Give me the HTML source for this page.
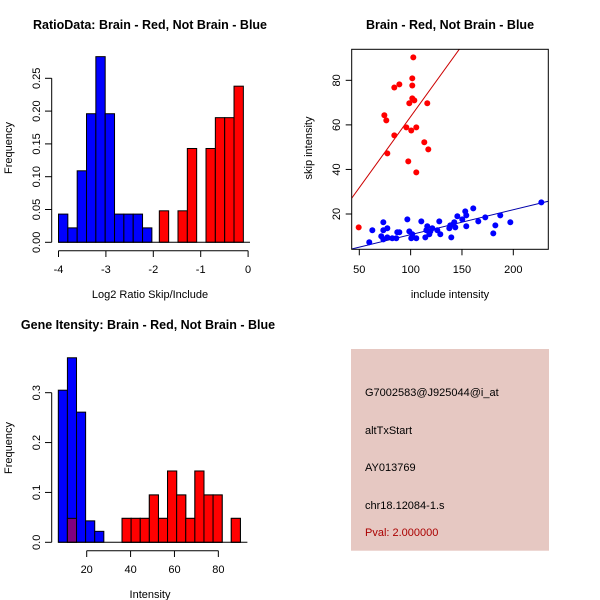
<!DOCTYPE html>
<html><head><meta charset="utf-8"><style>
body{margin:0;background:#fff}
svg{display:block;font-family:"Liberation Sans",sans-serif}
</style></head><body>
<svg id="c" width="600" height="600" xmlns="http://www.w3.org/2000/svg"></svg>
<script>
// Panel 1: ratio histogram
const ratioBlueStart = -4, ratioBinW = 0.197;
const ratioBlue = [0.043,0.022,0.109,0.196,0.283,0.196,0.043,0.043,0.043,0.022];
const ratioRedStart = -1.873;
const ratioRed = [0.048,0,0.048,0.143,0,0.143,0.19,0.19,0.238];
const ratioXTicks = [-4,-3,-2,-1,0];
const ratioYTicks = ["0.00","0.05","0.10","0.15","0.20","0.25"];
// Panel 2: scatter
const redX = [49.4,74.4,76.3,77.3,84.1,84.1,89,95.8,97.7,98.7,100.6,101.6,101.6,101.6,102.6,103.6,105.5,105.5,113.3,116.2,117.2];
const redY = [14,64.3,62,47.2,55.3,76.8,78.2,58.9,43.6,69.7,57.5,80.9,77.7,71.9,90.3,71,58.9,38.7,52.2,69.7,49];
const blueX = [59.7,62.7,71.4,73.4,73.4,73.4,77.3,77.3,82.1,86,87,89,96.8,98.7,100.6,101.6,105.5,110.4,114.3,115.3,116.2,118.2,119.2,121.1,126,127.9,128.9,137.7,138.6,139.6,141.6,142.5,143.5,145.5,150.3,153.2,154.2,154.2,161,165.9,172.7,180.5,182.5,187.3,197.1,227.3];
const blueY = [7.3,12.7,10,16.3,12.7,8.6,13.6,9.5,9.1,9.1,11.8,11.8,17.6,12.2,9.1,10.9,9.1,16.7,9.5,12.7,14.5,10.9,12.2,13.6,12.7,16.7,10.9,13.6,14.9,9.5,15.4,16.3,14,19,17.6,21.2,19.4,14.5,22.5,16.7,18.5,11.3,14.9,19.4,16.3,25.2];
const redFit = [-0.1,0.638];   // intercept, slope
const blueFit = [-0.45,0.1118];
const scXTicks = [50,100,150,200];
const scYTicks = [20,40,60,80];
// Panel 3: intensity histogram
const intBlueStart = 7.06, intBinW = 4.15;
const intBlue = [0.305,0.37,0.261,0.043,0.022];
const intRedStart = 11.2;
const intRed = [0.048,0,0,0,0,0,0.048,0.048,0.048,0.095,0.048,0.143,0.095,0.048,0.143,0.095,0.095,0,0.048];
const intXTicks = [20,40,60,80];
const intYTicks = ["0.0","0.1","0.2","0.3"];
// Panel 4
const infoLines = ["G7002583@J925044@i_at","altTxStart","AY013769","chr18.12084-1.s"];
const pvalText = "Pval: 2.000000";

const svg = document.getElementById('c');
const NS = 'http://www.w3.org/2000/svg';
function mk(tag, attrs, parent){const e=document.createElementNS(NS,tag);for(const k in attrs)e.setAttribute(k,attrs[k]);(parent||svg).appendChild(e);return e;}
function txt(s,x,y,attrs,parent){const e=mk('text',Object.assign({x:x,y:y},attrs),parent);e.textContent=s;return e;}

// ---------- Panel 1 ----------
(function(){
  const g = mk('g',{});
  
  
  const X = v => 58.5 + (v+4)*47.4;
  const Y = v => 242.3 - v*656;
  ratioBlue.forEach((h,i)=>{ if(h<=0) return;
    const x0=X(ratioBlueStart+i*ratioBinW), x1=X(ratioBlueStart+(i+1)*ratioBinW);
    const r=mk('rect',{x:x0,y:Y(h),width:x1-x0,height:Y(0)-Y(h),fill:'#0000ff',stroke:'#000','stroke-width':1},g);
     });
  ratioRed.forEach((h,i)=>{ if(h<=0) return;
    const x0=X(ratioRedStart+i*ratioBinW), x1=X(ratioRedStart+(i+1)*ratioBinW);
    const r=mk('rect',{x:x0,y:Y(h),width:x1-x0,height:Y(0)-Y(h),fill:'#ff0000',stroke:'#000','stroke-width':1},g);
     });
  mk('line',{x1:X(-4),x2:X(0.04),y1:Y(0),y2:Y(0),stroke:'#000'},g);
  const ax=mk('g',{},g);  
  mk('line',{x1:X(-4),x2:X(0),y1:250.7,y2:250.7,stroke:'#000'},ax);
  ratioXTicks.forEach(t=>{mk('line',{x1:X(t),x2:X(t),y1:250.7,y2:257,stroke:'#000'},ax);
    txt(String(t),X(t),273,{'font-size':11,'text-anchor':'middle'},ax);});
  const ay=mk('g',{},g);  
  mk('line',{x1:51.7,x2:51.7,y1:Y(0),y2:Y(0.25),stroke:'#000'},ay);
  ratioYTicks.forEach(t=>{const y=Y(+t);mk('line',{x1:45,x2:51.7,y1:y,y2:y,stroke:'#000'},ay);
    txt(t,40,y,{'font-size':11,'text-anchor':'middle',transform:`rotate(-90 40 ${y})`},ay);});
  const t1=txt('RatioData: Brain - Red, Not Brain - Blue',150,29,{'font-size':12.5,'font-weight':'bold','text-anchor':'middle'},g);
   
  const xl=txt('Log2 Ratio Skip/Include',150,298,{'font-size':11,'text-anchor':'middle'},g);
   
  const yl=txt('Frequency',12,148,{'font-size':11,'text-anchor':'middle',transform:'rotate(-90 12 148)'},g);
   
})();

// ---------- Panel 2 ----------
(function(){
  const g = mk('g',{});
  
  
  const X = v => 359.3 + (v-50)*1.0267;
  const Y = v => 214 - (v-20)*2.228;
  const L=351.7,R=548.3,T=49.3,B=249.3;
  const cp=mk('clipPath',{id:'sc'},g); mk('rect',{x:L,y:T,width:R-L,height:B-T},cp);
  const lines=mk('g',{'clip-path':'url(#sc)'},g);
  const xa=(L-359.3)/1.0267+50, xb=(R-359.3)/1.0267+50;
  const rl=mk('line',{x1:X(xa),y1:Y(redFit[0]+redFit[1]*xa),x2:X(xb),y2:Y(redFit[0]+redFit[1]*xb),stroke:'#cc0000','stroke-width':1},lines);
   
  const bl=mk('line',{x1:X(xa),y1:Y(blueFit[0]+blueFit[1]*xa),x2:X(xb),y2:Y(blueFit[0]+blueFit[1]*xb),stroke:'#0000aa','stroke-width':1},lines);
   
  redX.forEach((x,i)=>{const c=mk('circle',{cx:X(x),cy:Y(redY[i]),r:3,fill:'#ff0000'},g);
     });
  blueX.forEach((x,i)=>{const c=mk('circle',{cx:X(x),cy:Y(blueY[i]),r:3,fill:'#0000ff'},g);
     });
  const box=mk('rect',{x:L,y:T,width:R-L,height:B-T,fill:'none',stroke:'#000'},g);
   
  const ax=mk('g',{},g);  
  scXTicks.forEach(t=>{mk('line',{x1:X(t),x2:X(t),y1:B,y2:B+6,stroke:'#000'},ax);
    txt(String(t),X(t),273,{'font-size':11,'text-anchor':'middle'},ax);});
  const ay=mk('g',{},g);  
  scYTicks.forEach(t=>{const y=Y(t);mk('line',{x1:L-6,x2:L,y1:y,y2:y,stroke:'#000'},ay);
    txt(String(t),340,y,{'font-size':11,'text-anchor':'middle',transform:`rotate(-90 340 ${y})`},ay);});
  const t1=txt('Brain - Red, Not Brain - Blue',450,29,{'font-size':12.5,'font-weight':'bold','text-anchor':'middle'},g);
   
  const xl=txt('include intensity',450,298,{'font-size':11,'text-anchor':'middle'},g);
   
  const yl=txt('skip intensity',312,148,{'font-size':11,'text-anchor':'middle',transform:'rotate(-90 312 148)'},g);
   
})();

// ---------- Panel 3 ----------
(function(){
  const g = mk('g',{});
  
  
  const X = v => 86.7 + (v-20)*2.194;
  const Y = v => 542.3 - v*498.7;
  intBlue.forEach((h,i)=>{ if(h<=0) return;
    const x0=X(intBlueStart+i*intBinW), x1=X(intBlueStart+(i+1)*intBinW);
    const r=mk('rect',{x:x0,y:Y(h),width:x1-x0,height:Y(0)-Y(h),fill:'#0000ff',stroke:'#000','stroke-width':1},g);
     });
  intRed.forEach((h,i)=>{ if(h<=0) return;
    const x0=X(intRedStart+i*intBinW), x1=X(intRedStart+(i+1)*intBinW);
    const r=mk('rect',{x:x0,y:Y(h),width:x1-x0,height:Y(0)-Y(h),fill:'#ff0000','fill-opacity':0.5,stroke:'#000','stroke-width':1},g);
     });
  intRed.forEach((h,i)=>{ if(h<=0) return;
    const xs=intRedStart+i*intBinW;
    if(xs < intBlueStart+intBlue.length*intBinW) return;
    const x0=X(xs), x1=X(xs+intBinW);
    const r=mk('rect',{x:x0,y:Y(h),width:x1-x0,height:Y(0)-Y(h),fill:'#ff0000',stroke:'#000','stroke-width':1},g);
     });
  mk('line',{x1:X(intBlueStart),x2:X(intRedStart+intRed.length*intBinW)+7,y1:Y(0),y2:Y(0),stroke:'#000'},g);
  const ax=mk('g',{},g);  
  mk('line',{x1:X(20),x2:X(80),y1:550.7,y2:550.7,stroke:'#000'},ax);
  intXTicks.forEach(t=>{mk('line',{x1:X(t),x2:X(t),y1:550.7,y2:557,stroke:'#000'},ax);
    txt(String(t),X(t),573,{'font-size':11,'text-anchor':'middle'},ax);});
  const ay=mk('g',{},g);  
  mk('line',{x1:51.7,x2:51.7,y1:Y(0),y2:Y(0.3),stroke:'#000'},ay);
  intYTicks.forEach(t=>{const y=Y(+t);mk('line',{x1:45,x2:51.7,y1:y,y2:y,stroke:'#000'},ay);
    txt(t,40,y,{'font-size':11,'text-anchor':'middle',transform:`rotate(-90 40 ${y})`},ay);});
  const t1=txt('Gene Itensity: Brain - Red, Not Brain - Blue',148,329,{'font-size':12.5,'font-weight':'bold','text-anchor':'middle'},g);
   
  const xl=txt('Intensity',150,598,{'font-size':11,'text-anchor':'middle'},g);
   
  const yl=txt('Frequency',12,448,{'font-size':11,'text-anchor':'middle',transform:'rotate(-90 12 448)'},g);
   
})();

// ---------- Panel 4 ----------
(function(){
  const g = mk('g',{});
  
  
  mk('rect',{x:351,y:349,width:198,height:201.7,fill:'#e6c8c2'},g);
  const ys=[396,434,471,509];
  infoLines.forEach((s,i)=>{const t=txt(s,365,ys[i],{'font-size':11,fill:'#000'},g);
     });
  const p=txt(pvalText,365,536,{'font-size':11,fill:'#aa0000'},g);
   
})();
</script>
</body></html>
